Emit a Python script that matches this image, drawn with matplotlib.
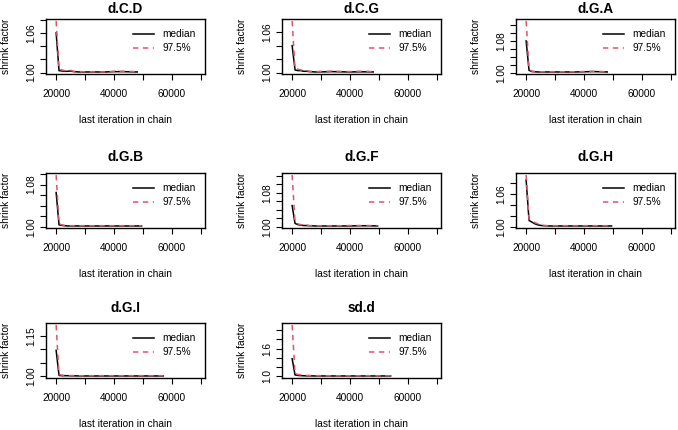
import matplotlib
matplotlib.use('Agg')
import matplotlib.pyplot as plt

plt.rcParams['font.family'] = ['Liberation Sans', 'DejaVu Sans']

# Gelman-Rubin shrink factor values
iters_short = [20000, 21000, 22000, 23000, 24000, 25000, 26000, 28000,
               31000, 34000, 37000, 40000, 43000, 46000, 48000]
iters_mid = [20000, 21000, 22000, 23000, 24000, 25000, 26000, 28000,
             31000, 34000, 37000, 40000, 43000, 46000, 49500]
iters_gi = [20000, 21000, 22000, 23000, 24000, 25000, 26000, 28000,
            32000, 36000, 40000, 44000, 48000, 52000, 57000]
iters_sd = [20000, 21000, 22000, 23000, 24000, 25000, 26000, 28000,
            31000, 35000, 39000, 43000, 47000, 50000, 54000]

cd_median = [1.060, 1.003, 1.0025, 1.002, 1.002, 1.0025, 1.0015, 1.001,
             1.001, 1.001, 1.001, 1.0015, 1.0015, 1.0012, 1.001]
cd_upper = [1.078, 1.005, 1.004, 1.003, 1.003, 1.0035, 1.002, 1.0015,
            1.0012, 1.0012, 1.001, 1.002, 1.002, 1.0018, 1.0012]

cg_median = [1.040, 1.004, 1.003, 1.003, 1.002, 1.002, 1.0015, 1.001,
             1.0012, 1.0015, 1.0012, 1.001, 1.0012, 1.0012, 1.001]
cg_upper = [1.0765, 1.006, 1.005, 1.004, 1.003, 1.003, 1.002, 1.0015,
            1.002, 1.0022, 1.0018, 1.0015, 1.002, 1.002, 1.0012]

ga_median = [1.080, 1.006, 1.003, 1.0025, 1.002, 1.002, 1.002, 1.002,
             1.002, 1.002, 1.002, 1.0025, 1.003, 1.0025, 1.002]
ga_upper = [1.130, 1.009, 1.004, 1.003, 1.0025, 1.0025, 1.0025, 1.0025,
            1.0025, 1.0025, 1.0025, 1.003, 1.0035, 1.003, 1.0025]

gb_median = [1.065, 1.004, 1.003, 1.0025, 1.002, 1.002, 1.002, 1.002,
             1.002, 1.002, 1.002, 1.002, 1.002, 1.002, 1.002]
gb_upper = [1.098, 1.006, 1.004, 1.003, 1.003, 1.0025, 1.0025, 1.0025,
            1.0025, 1.0025, 1.0025, 1.0025, 1.0025, 1.0025, 1.0025]

gf_median = [1.050, 1.008, 1.005, 1.004, 1.003, 1.003, 1.0025, 1.002,
             1.002, 1.002, 1.002, 1.002, 1.0025, 1.0025, 1.002]
gf_upper = [1.122, 1.011, 1.007, 1.005, 1.004, 1.004, 1.003, 1.0025,
            1.0025, 1.0025, 1.0025, 1.003, 1.003, 1.003, 1.0025]

gh_median = [1.086, 1.012, 1.009, 1.006, 1.004, 1.003, 1.0025, 1.002,
             1.002, 1.002, 1.002, 1.002, 1.002, 1.002, 1.002]
gh_upper = [1.095, 1.014, 1.011, 1.008, 1.006, 1.004, 1.003, 1.0025,
            1.0025, 1.0025, 1.0025, 1.0025, 1.0025, 1.0025, 1.0025]

gi_median = [1.096, 1.003, 1.002, 1.002, 1.002, 1.0015, 1.0015, 1.001,
             1.001, 1.001, 1.001, 1.001, 1.001, 1.001, 1.001]
gi_upper = [1.190, 1.006, 1.004, 1.003, 1.003, 1.0025, 1.0025, 1.002,
            1.002, 1.002, 1.002, 1.002, 1.002, 1.002, 1.002]

sd_median = [1.38, 1.03, 1.02, 1.015, 1.012, 1.01, 1.01, 1.008,
             1.008, 1.008, 1.008, 1.008, 1.008, 1.008, 1.008]
sd_upper = [2.11, 1.06, 1.04, 1.03, 1.025, 1.02, 1.018, 1.015,
            1.012, 1.012, 1.012, 1.012, 1.012, 1.012, 1.012]

titles = ['d.C.D', 'd.C.G', 'd.G.A', 'd.G.B', 'd.G.F', 'd.G.H', 'd.G.I', 'sd.d']

# y ticks and the subset of them that R printed
yticks_c2 = [1.00, 1.02, 1.04, 1.06, 1.08]
yticks_c3 = [1.00, 1.02, 1.04, 1.06, 1.08, 1.10, 1.12]
yticks_gi = [1.00, 1.05, 1.10, 1.15]
yticks_sd = [1.0, 1.2, 1.4, 1.6, 1.8, 2.0]

x_ticks = [20000, 30000, 40000, 50000, 60000, 70000]
x_labels = ['20000', '', '40000', '', '60000', '']

RED = '#DF536B'
W, H = 678, 430
BOX_W, BOX_H = 159, 55
col_left = [46, 282, 516]
row_top = [19, 173, 323]
title_y = [9, 157, 308]


def draw_panel(fig, row, col, title, iters, med, upper, yticks, shown, fmt):
    '''Draw one shrink factor panel at the given grid slot.'''
    left = col_left[col]
    top = row_top[row]
    ax = fig.add_axes([left / W, 1 - (top + BOX_H) / H, BOX_W / W, BOX_H / H])
    ax.plot(iters, med, color='black', lw=1.1)
    ax.plot(iters, upper, color=RED, lw=1.1, ls=(0, (3.5, 3)))

    lo = min(med + upper)
    hi = max(med + upper)
    pad = 0.04 * (hi - lo)
    ax.set_xticks(x_ticks)
    ax.set_xticklabels(x_labels)
    ax.set_yticks(yticks)
    ax.set_yticklabels([fmt % t if t in shown else '' for t in yticks],
                       rotation=90, va='center')
    ax.set_ylim(lo - pad, hi + pad)
    ax.set_xlim(16500, 71400)

    ax.tick_params(direction='out', length=4.3, width=0.8, labelsize=7.3,
                   colors='black')
    ax.tick_params(axis='x', pad=6.5)
    ax.tick_params(axis='y', pad=3)
    for sp in ax.spines.values():
        sp.set_linewidth(1.0)

    # legend drawn by hand like R's legend(bty='n')
    ax.plot([0.55, 0.677], [0.73, 0.73], color='black', lw=1.1,
            transform=ax.transAxes, clip_on=False)
    ax.plot([0.55, 0.677], [0.47, 0.47], color=RED, lw=1.1,
            ls=(0, (3.5, 3)), transform=ax.transAxes, clip_on=False)
    ax.text(0.73, 0.73, 'median', transform=ax.transAxes, fontsize=7.3,
            va='center', ha='left')
    ax.text(0.73, 0.47, '97.5%', transform=ax.transAxes, fontsize=7.3,
            va='center', ha='left')

    ax.text(0.5, -46 / BOX_H, 'last iteration in chain', transform=ax.transAxes,
            fontsize=7.3, ha='center', va='center')
    ax.text(-40 / BOX_W, 0.5, 'shrink factor', transform=ax.transAxes,
            fontsize=7.3, ha='center', va='center', rotation=90)
    fig.text((left + BOX_W / 2) / W, 1 - title_y[row] / H, title,
             fontsize=9.8, fontweight='bold', ha='center', va='center')
    return ax


fig = plt.figure(figsize=(W / 100, H / 100), dpi=100)

draw_panel(fig, 0, 0, titles[0], iters_short, cd_median, cd_upper,
           yticks_c2, [1.00, 1.06], '%.2f')
draw_panel(fig, 0, 1, titles[1], iters_short, cg_median, cg_upper,
           yticks_c2, [1.00, 1.06], '%.2f')
draw_panel(fig, 0, 2, titles[2], iters_short, ga_median, ga_upper,
           yticks_c3, [1.00, 1.08], '%.2f')
draw_panel(fig, 1, 0, titles[3], iters_mid, gb_median, gb_upper,
           yticks_c3, [1.00, 1.08], '%.2f')
draw_panel(fig, 1, 1, titles[4], iters_mid, gf_median, gf_upper,
           yticks_c3, [1.00, 1.08], '%.2f')
draw_panel(fig, 1, 2, titles[5], iters_mid, gh_median, gh_upper,
           yticks_c2, [1.00, 1.06], '%.2f')
draw_panel(fig, 2, 0, titles[6], iters_gi, gi_median, gi_upper,
           yticks_gi, [1.00, 1.15], '%.2f')
draw_panel(fig, 2, 1, titles[7], iters_sd, sd_median, sd_upper,
           yticks_sd, [1.0, 1.6], '%.1f')

fig.savefig('out.png', dpi=100)
